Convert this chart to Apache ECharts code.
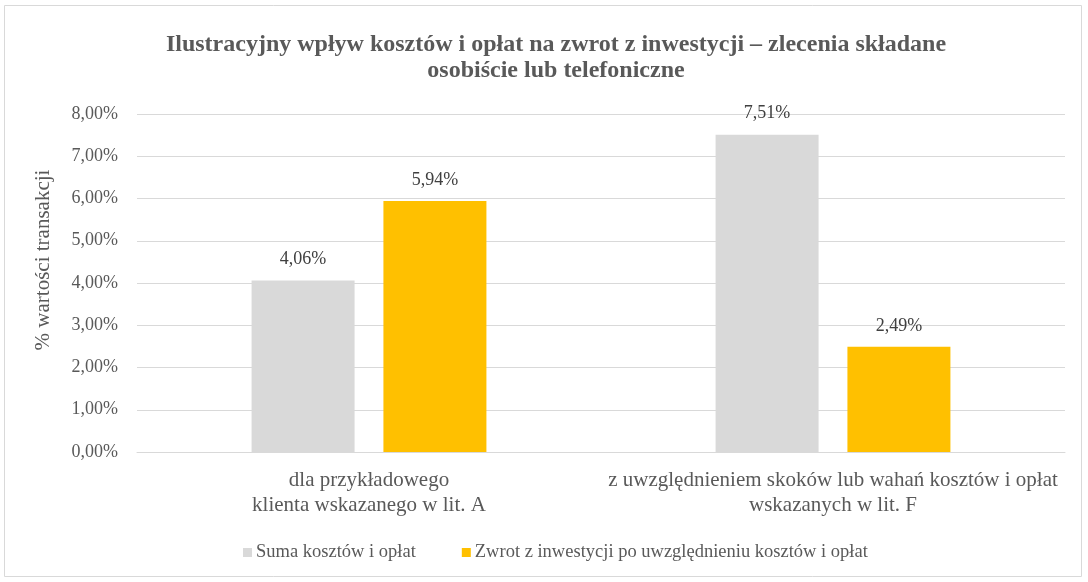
<!DOCTYPE html>
<html><head><meta charset="utf-8">
<script src="https://cdn.jsdelivr.net/npm/echarts@6/dist/echarts.min.js"></script>
<style>html,body{margin:0;padding:0;background:#fff}#c{width:1088px;height:582px}</style>
</head><body><div id="c"></div>
<script>
const categories = ['dla przykładowego\nklienta wskazanego w lit. A', 'z uwzględnieniem skoków lub wahań kosztów i opłat\nwskazanych w lit. F'];
const seriesNames = ['Suma kosztów i opłat', 'Zwrot z inwestycji po uwzględnieniu kosztów i opłat'];
const costs = [4.06, 7.51];
const returns = [5.94, 2.49];
const yTicks = {min: 0, max: 8, interval: 1};
const font = '"Liberation Serif", "Times New Roman", serif';
const fmt = v => v.toFixed(2).replace('.', ',') + '%';
const chart = echarts.init(document.getElementById('c'));
chart.setOption({
  animation: false,
  textStyle: {fontFamily: font},
  title: {
    text: 'Ilustracyjny wpływ kosztów i opłat na zwrot z inwestycji – zlecenia składane\nosobiście lub telefoniczne',
    left: 551, top: 27, textAlign: 'center',
    textStyle: {fontFamily: font, fontSize: 24, fontWeight: 'bold', color: '#595959', lineHeight: 26}
  },
  graphic: [
    {type: 'rect', shape: {x: 4.5, y: 5.5, width: 1077, height: 571}, style: {fill: 'none', stroke: '#d9d9d9', lineWidth: 1}, silent: true},
    {type: 'text', x: 43, y: 260, rotation: Math.PI / 2, style: {text: '% wartości transakcji', font: '21px ' + font, fill: '#595959', align: 'center', verticalAlign: 'middle'}}
  ],
  legend: {
    top: 538, left: 238, itemWidth: 9, itemHeight: 9, itemGap: 46, icon: 'rect',
    textStyle: {fontFamily: font, fontSize: 18.5, color: '#595959', padding: [0, 0, 0, -1]},
    data: seriesNames
  },
  grid: {left: 137, right: 23, top: 114, bottom: 130, containLabel: false},
  xAxis: {
    type: 'category', data: categories,
    axisLine: {lineStyle: {color: '#d9d9d9', width: 1}},
    axisTick: {show: false},
    axisLabel: {fontFamily: font, fontSize: 21, color: '#595959', lineHeight: 25, margin: 16, interval: 0}
  },
  yAxis: {
    type: 'value', min: yTicks.min, max: yTicks.max, interval: yTicks.interval,
    axisLine: {show: false}, axisTick: {show: false},
    splitLine: {lineStyle: {color: '#d9d9d9', width: 1}},
    axisLabel: {fontFamily: font, fontSize: 18, color: '#595959', margin: 19, formatter: fmt}
  },
  series: [
    {name: seriesNames[0], type: 'bar', data: costs, barWidth: 103, barGap: '28%', itemStyle: {color: '#d9d9d9'},
     label: {show: true, position: 'top', distance: 12, fontFamily: font, fontSize: 18, color: '#404040', formatter: p => fmt(p.value)}},
    {name: seriesNames[1], type: 'bar', data: returns, barWidth: 103, barGap: '28%', itemStyle: {color: '#ffc000'},
     label: {show: true, position: 'top', distance: 12, fontFamily: font, fontSize: 18, color: '#404040', formatter: p => fmt(p.value)}}
  ]
});
</script></body></html>
